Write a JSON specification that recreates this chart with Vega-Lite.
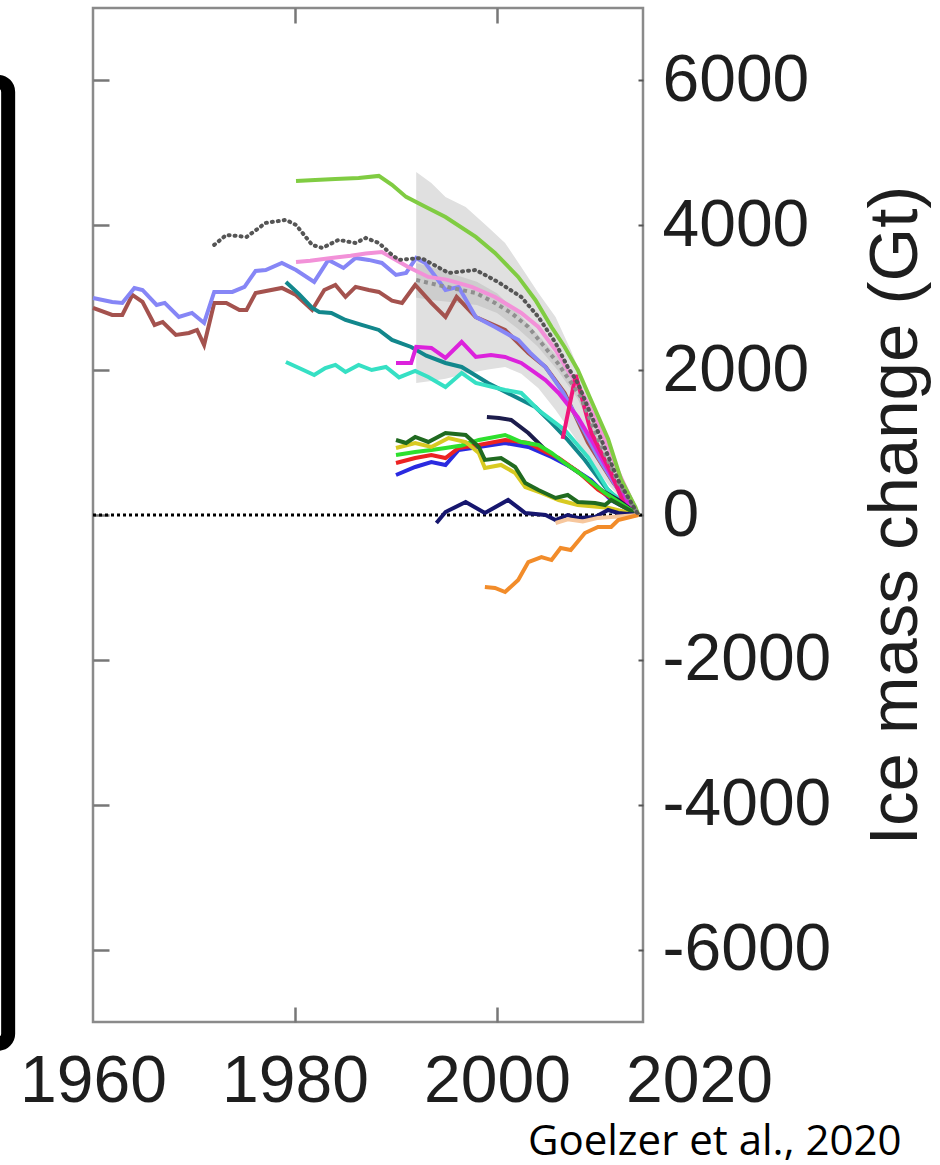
{
  "$schema": "https://vega.github.io/schema/vega-lite/v6.json",
  "width": 550,
  "height": 1014,
  "autosize": {"type": "none"},
  "padding": {"left": 93, "top": 8, "right": 297, "bottom": 143},
  "background": "white",
  "config": {
    "view": {"stroke": "#8a8a8a", "strokeWidth": 2.5},
    "axis": {"grid": false, "domain": false, "labelFont": "Liberation Sans", "titleFont": "Liberation Sans"}
  },
  "datasets": {
    "band": [
      {"t": 1992, "v": 4737, "v2": 1823}, {"t": 1993.5, "v": 4585, "v2": 1850}, {"t": 1994.9, "v": 4392, "v2": 1880},
      {"t": 1996.9, "v": 4253, "v2": 1950}, {"t": 1999.1, "v": 3977, "v2": 2010}, {"t": 2000.8, "v": 3756, "v2": 2044},
      {"t": 2002.4, "v": 3425, "v2": 1950}, {"t": 2004.1, "v": 3066, "v2": 1750}, {"t": 2005.8, "v": 2734, "v2": 1450},
      {"t": 2007.3, "v": 2279, "v2": 1150}, {"t": 2009, "v": 1700, "v2": 800}, {"t": 2011, "v": 950, "v2": 420},
      {"t": 2013, "v": 300, "v2": 120}, {"t": 2014, "v": 0, "v2": 0}
    ],
    "imbieband": [
      {"t": 1992, "v": 3480, "v2": 3000}, {"t": 1994, "v": 3400, "v2": 2960}, {"t": 1996, "v": 3310, "v2": 2930},
      {"t": 1998, "v": 3220, "v2": 2900}, {"t": 2000, "v": 3060, "v2": 2790}, {"t": 2002, "v": 2800, "v2": 2580},
      {"t": 2004, "v": 2500, "v2": 2330}, {"t": 2006, "v": 2180, "v2": 2000}, {"t": 2008, "v": 1760, "v2": 1600},
      {"t": 2010, "v": 1120, "v2": 1000}, {"t": 2012, "v": 490, "v2": 420}, {"t": 2014, "v": 0, "v2": 0}
    ],
    "zero": [{"t": 1960, "v": 0}, {"t": 2014.45, "v": 0}],
    "box": [{"t": 1930, "t2": 1951.6, "v": 5980, "v2": -7300}],
    "dotted": [
      {"t": 1972, "v": 3729}, {"t": 1973.2, "v": 3867}, {"t": 1975.2, "v": 3839}, {"t": 1977.1, "v": 4033},
      {"t": 1979.1, "v": 4074}, {"t": 1980.1, "v": 4005}, {"t": 1981.7, "v": 3729}, {"t": 1982.7, "v": 3687},
      {"t": 1984.3, "v": 3798}, {"t": 1986, "v": 3756}, {"t": 1987, "v": 3825}, {"t": 1988.3, "v": 3756},
      {"t": 1989.6, "v": 3591}, {"t": 1990.3, "v": 3522}, {"t": 1992.5, "v": 3549}, {"t": 1995.2, "v": 3342},
      {"t": 1997.9, "v": 3383}, {"t": 2000.1, "v": 3218}, {"t": 2002.4, "v": 3011}, {"t": 2004.1, "v": 2734},
      {"t": 2005.8, "v": 2375}, {"t": 2007, "v": 2044}, {"t": 2008, "v": 1823}, {"t": 2010, "v": 1150},
      {"t": 2012, "v": 480}, {"t": 2014, "v": 0}
    ],
    "imbiemean": [
      {"t": 1992, "v": 3245}, {"t": 1994, "v": 3180}, {"t": 1996, "v": 3120}, {"t": 1997.9, "v": 3066},
      {"t": 1999.8, "v": 2928}, {"t": 2001.5, "v": 2780}, {"t": 2003.1, "v": 2596}, {"t": 2004.4, "v": 2375},
      {"t": 2006, "v": 2100}, {"t": 2008.3, "v": 1630}, {"t": 2010, "v": 1050}, {"t": 2012, "v": 450}, {"t": 2014, "v": 0}
    ],
    "models": [
      {"m": "brown", "t": 1960, "v": 2859}, {"m": "brown", "t": 1961.9, "v": 2762}, {"m": "brown", "t": 1962.9, "v": 2762},
      {"m": "brown", "t": 1963.9, "v": 3038}, {"m": "brown", "t": 1964.9, "v": 2942}, {"m": "brown", "t": 1966.1, "v": 2624},
      {"m": "brown", "t": 1966.9, "v": 2665}, {"m": "brown", "t": 1968.2, "v": 2486}, {"m": "brown", "t": 1969.5, "v": 2513},
      {"m": "brown", "t": 1970.3, "v": 2555}, {"m": "brown", "t": 1971, "v": 2348}, {"m": "brown", "t": 1972, "v": 2928},
      {"m": "brown", "t": 1973.2, "v": 2928}, {"m": "brown", "t": 1974.5, "v": 2831}, {"m": "brown", "t": 1975.2, "v": 2831},
      {"m": "brown", "t": 1976.1, "v": 3066}, {"m": "brown", "t": 1978.7, "v": 3135}, {"m": "brown", "t": 1980.1, "v": 3038},
      {"m": "brown", "t": 1981.7, "v": 2831}, {"m": "brown", "t": 1982.9, "v": 3107}, {"m": "brown", "t": 1984, "v": 3176},
      {"m": "brown", "t": 1985, "v": 3011}, {"m": "brown", "t": 1986, "v": 3149}, {"m": "brown", "t": 1987.3, "v": 3107},
      {"m": "brown", "t": 1988.3, "v": 3080}, {"m": "brown", "t": 1989.6, "v": 2960}, {"m": "brown", "t": 1990.6, "v": 2928},
      {"m": "brown", "t": 1991.9, "v": 3176}, {"m": "brown", "t": 1993.5, "v": 2928}, {"m": "brown", "t": 1994.9, "v": 2734},
      {"m": "brown", "t": 1996, "v": 3011}, {"m": "brown", "t": 1997.9, "v": 2734}, {"m": "brown", "t": 2000.8, "v": 2555},
      {"m": "brown", "t": 2003.1, "v": 2237}, {"m": "brown", "t": 2004.8, "v": 2044}, {"m": "brown", "t": 2006.7, "v": 1685},
      {"m": "brown", "t": 2009, "v": 1000}, {"m": "brown", "t": 2011.5, "v": 450}, {"m": "brown", "t": 2014, "v": 0},

      {"m": "violet", "t": 1960, "v": 2997}, {"m": "violet", "t": 1961.9, "v": 2942}, {"m": "violet", "t": 1962.9, "v": 2928},
      {"m": "violet", "t": 1964.1, "v": 3135}, {"m": "violet", "t": 1964.9, "v": 3107}, {"m": "violet", "t": 1966.3, "v": 2900},
      {"m": "violet", "t": 1967.1, "v": 2928}, {"m": "violet", "t": 1968.5, "v": 2734}, {"m": "violet", "t": 1969.8, "v": 2790},
      {"m": "violet", "t": 1971, "v": 2652}, {"m": "violet", "t": 1972, "v": 3080}, {"m": "violet", "t": 1973.8, "v": 3080},
      {"m": "violet", "t": 1975, "v": 3149}, {"m": "violet", "t": 1976.1, "v": 3370}, {"m": "violet", "t": 1977.1, "v": 3383},
      {"m": "violet", "t": 1978.7, "v": 3480}, {"m": "violet", "t": 1980.1, "v": 3383}, {"m": "violet", "t": 1981.9, "v": 3218},
      {"m": "violet", "t": 1983.3, "v": 3522}, {"m": "violet", "t": 1984.8, "v": 3411}, {"m": "violet", "t": 1986, "v": 3549},
      {"m": "violet", "t": 1987.3, "v": 3522}, {"m": "violet", "t": 1988.6, "v": 3480}, {"m": "violet", "t": 1990, "v": 3314},
      {"m": "violet", "t": 1991, "v": 3342}, {"m": "violet", "t": 1992, "v": 3549}, {"m": "violet", "t": 1992.9, "v": 3480},
      {"m": "violet", "t": 1994.9, "v": 3107}, {"m": "violet", "t": 1996.2, "v": 3149}, {"m": "violet", "t": 1997.9, "v": 2734},
      {"m": "violet", "t": 1999.8, "v": 2596}, {"m": "violet", "t": 2002.1, "v": 2417}, {"m": "violet", "t": 2003.3, "v": 2237},
      {"m": "violet", "t": 2004.8, "v": 2044}, {"m": "violet", "t": 2006.5, "v": 1700}, {"m": "violet", "t": 2008.3, "v": 1250},
      {"m": "violet", "t": 2010, "v": 800}, {"m": "violet", "t": 2012, "v": 350}, {"m": "violet", "t": 2014, "v": 0},

      {"m": "pink", "t": 1980.1, "v": 3494}, {"m": "pink", "t": 1981.5, "v": 3510}, {"m": "pink", "t": 1983.6, "v": 3549},
      {"m": "pink", "t": 1985.5, "v": 3580}, {"m": "pink", "t": 1987, "v": 3610}, {"m": "pink", "t": 1988.6, "v": 3632},
      {"m": "pink", "t": 1990, "v": 3520}, {"m": "pink", "t": 1991.2, "v": 3425}, {"m": "pink", "t": 1993.2, "v": 3287},
      {"m": "pink", "t": 1995, "v": 3250}, {"m": "pink", "t": 1997.5, "v": 3149}, {"m": "pink", "t": 1999.8, "v": 3011},
      {"m": "pink", "t": 2002.4, "v": 2790}, {"m": "pink", "t": 2004.1, "v": 2596}, {"m": "pink", "t": 2005.8, "v": 2279},
      {"m": "pink", "t": 2007, "v": 2002}, {"m": "pink", "t": 2008.3, "v": 1726}, {"m": "pink", "t": 2010, "v": 1250},
      {"m": "pink", "t": 2012, "v": 600}, {"m": "pink", "t": 2014, "v": 0},

      {"m": "green", "t": 1980.1, "v": 4612}, {"m": "green", "t": 1982, "v": 4625}, {"m": "green", "t": 1984, "v": 4640},
      {"m": "green", "t": 1986.3, "v": 4654}, {"m": "green", "t": 1988.3, "v": 4682}, {"m": "green", "t": 1989.6, "v": 4560},
      {"m": "green", "t": 1991, "v": 4392}, {"m": "green", "t": 1993, "v": 4250}, {"m": "green", "t": 1994.9, "v": 4115},
      {"m": "green", "t": 1997.9, "v": 3839}, {"m": "green", "t": 1999.8, "v": 3618}, {"m": "green", "t": 2002.1, "v": 3287},
      {"m": "green", "t": 2003.8, "v": 2969}, {"m": "green", "t": 2005.4, "v": 2596}, {"m": "green", "t": 2006.7, "v": 2320},
      {"m": "green", "t": 2008, "v": 2002}, {"m": "green", "t": 2009.3, "v": 1588}, {"m": "green", "t": 2011, "v": 1050},
      {"m": "green", "t": 2012.3, "v": 483}, {"m": "green", "t": 2013.7, "v": 110}, {"m": "green", "t": 2014, "v": 0},

      {"m": "teal", "t": 1979.1, "v": 3218}, {"m": "teal", "t": 1980.4, "v": 3050}, {"m": "teal", "t": 1981.7, "v": 2859},
      {"m": "teal", "t": 1982.4, "v": 2803}, {"m": "teal", "t": 1983.6, "v": 2790}, {"m": "teal", "t": 1985, "v": 2693},
      {"m": "teal", "t": 1986.6, "v": 2624}, {"m": "teal", "t": 1988.3, "v": 2555}, {"m": "teal", "t": 1989.6, "v": 2417},
      {"m": "teal", "t": 1991.5, "v": 2320}, {"m": "teal", "t": 1993, "v": 2200}, {"m": "teal", "t": 1994.9, "v": 2099},
      {"m": "teal", "t": 1996.5, "v": 2044}, {"m": "teal", "t": 1999.1, "v": 1823}, {"m": "teal", "t": 2001.4, "v": 1660},
      {"m": "teal", "t": 2003.8, "v": 1491}, {"m": "teal", "t": 2005.4, "v": 1271}, {"m": "teal", "t": 2007, "v": 1036},
      {"m": "teal", "t": 2008.7, "v": 760}, {"m": "teal", "t": 2010.7, "v": 387}, {"m": "teal", "t": 2012.3, "v": 166},
      {"m": "teal", "t": 2014, "v": 0},

      {"m": "cyan", "t": 1979.1, "v": 2113}, {"m": "cyan", "t": 1980.4, "v": 2030}, {"m": "cyan", "t": 1981.9, "v": 1933},
      {"m": "cyan", "t": 1983, "v": 2030}, {"m": "cyan", "t": 1984, "v": 2072}, {"m": "cyan", "t": 1985, "v": 1975},
      {"m": "cyan", "t": 1986.3, "v": 2072}, {"m": "cyan", "t": 1987.6, "v": 2002}, {"m": "cyan", "t": 1989, "v": 2044},
      {"m": "cyan", "t": 1990.3, "v": 1900}, {"m": "cyan", "t": 1991.9, "v": 1990}, {"m": "cyan", "t": 1993.2, "v": 1906},
      {"m": "cyan", "t": 1994.9, "v": 1768}, {"m": "cyan", "t": 1996.5, "v": 1961}, {"m": "cyan", "t": 1997.9, "v": 1823},
      {"m": "cyan", "t": 2000.8, "v": 1726}, {"m": "cyan", "t": 2002.4, "v": 1685}, {"m": "cyan", "t": 2004.1, "v": 1450},
      {"m": "cyan", "t": 2006.7, "v": 1174}, {"m": "cyan", "t": 2009, "v": 800}, {"m": "cyan", "t": 2011, "v": 345},
      {"m": "cyan", "t": 2014, "v": 0},

      {"m": "magenta", "t": 1990, "v": 2099}, {"m": "magenta", "t": 1991.5, "v": 2099}, {"m": "magenta", "t": 1992, "v": 2320},
      {"m": "magenta", "t": 1993.5, "v": 2306}, {"m": "magenta", "t": 1994.9, "v": 2168}, {"m": "magenta", "t": 1996.5, "v": 2389},
      {"m": "magenta", "t": 1997.9, "v": 2182}, {"m": "magenta", "t": 1999.4, "v": 2210}, {"m": "magenta", "t": 2000.8, "v": 2182},
      {"m": "magenta", "t": 2002.4, "v": 2099}, {"m": "magenta", "t": 2003.8, "v": 1961}, {"m": "magenta", "t": 2004.8, "v": 1864},
      {"m": "magenta", "t": 2006.1, "v": 1685}, {"m": "magenta", "t": 2008, "v": 1350}, {"m": "magenta", "t": 2009.5, "v": 1000},
      {"m": "magenta", "t": 2011, "v": 620}, {"m": "magenta", "t": 2012.5, "v": 250}, {"m": "magenta", "t": 2014, "v": 0},

      {"m": "hotpink", "t": 2006.5, "v": 1050}, {"m": "hotpink", "t": 2007.8, "v": 1933}, {"m": "hotpink", "t": 2009.3, "v": 1150},
      {"m": "hotpink", "t": 2011.3, "v": 580}, {"m": "hotpink", "t": 2012.7, "v": 110}, {"m": "hotpink", "t": 2014, "v": 0},

      {"m": "navy1", "t": 1999, "v": 1353}, {"m": "navy1", "t": 2000.2, "v": 1340}, {"m": "navy1", "t": 2001.4, "v": 1312},
      {"m": "navy1", "t": 2003.1, "v": 1132}, {"m": "navy1", "t": 2004.8, "v": 898}, {"m": "navy1", "t": 2006.7, "v": 718},
      {"m": "navy1", "t": 2008.7, "v": 525}, {"m": "navy1", "t": 2010.3, "v": 345}, {"m": "navy1", "t": 2012, "v": 207},
      {"m": "navy1", "t": 2014, "v": 0},

      {"m": "blue", "t": 1990, "v": 552}, {"m": "blue", "t": 1991.9, "v": 663}, {"m": "blue", "t": 1993.5, "v": 732},
      {"m": "blue", "t": 1994.9, "v": 691}, {"m": "blue", "t": 1996.2, "v": 898}, {"m": "blue", "t": 1998.2, "v": 939},
      {"m": "blue", "t": 2000.8, "v": 994}, {"m": "blue", "t": 2003.1, "v": 939}, {"m": "blue", "t": 2005.4, "v": 801},
      {"m": "blue", "t": 2007.3, "v": 663}, {"m": "blue", "t": 2009.3, "v": 483}, {"m": "blue", "t": 2011.3, "v": 207},
      {"m": "blue", "t": 2014, "v": 0},

      {"m": "red", "t": 1990, "v": 718}, {"m": "red", "t": 1991.9, "v": 787}, {"m": "red", "t": 1993.5, "v": 829},
      {"m": "red", "t": 1994.9, "v": 787}, {"m": "red", "t": 1996.2, "v": 925}, {"m": "red", "t": 1998.2, "v": 967},
      {"m": "red", "t": 2000.8, "v": 1036}, {"m": "red", "t": 2003.1, "v": 994}, {"m": "red", "t": 2004.8, "v": 870},
      {"m": "red", "t": 2006.1, "v": 787}, {"m": "red", "t": 2008, "v": 600}, {"m": "red", "t": 2010, "v": 350},
      {"m": "red", "t": 2014, "v": 0},

      {"m": "green2", "t": 1990, "v": 829}, {"m": "green2", "t": 1991.9, "v": 870}, {"m": "green2", "t": 1993.5, "v": 898},
      {"m": "green2", "t": 1994.9, "v": 925}, {"m": "green2", "t": 1996.5, "v": 960}, {"m": "green2", "t": 1998.2, "v": 1036},
      {"m": "green2", "t": 2000.8, "v": 1105}, {"m": "green2", "t": 2002.4, "v": 1008}, {"m": "green2", "t": 2004.1, "v": 967},
      {"m": "green2", "t": 2005.4, "v": 856}, {"m": "green2", "t": 2006.7, "v": 718}, {"m": "green2", "t": 2008.7, "v": 525},
      {"m": "green2", "t": 2010.7, "v": 304}, {"m": "green2", "t": 2014, "v": 0},

      {"m": "yellow", "t": 1990, "v": 925}, {"m": "yellow", "t": 1991.9, "v": 994}, {"m": "yellow", "t": 1993.5, "v": 939},
      {"m": "yellow", "t": 1995.2, "v": 1063}, {"m": "yellow", "t": 1996.9, "v": 1008}, {"m": "yellow", "t": 1998.2, "v": 856},
      {"m": "yellow", "t": 1998.8, "v": 649}, {"m": "yellow", "t": 2000.4, "v": 691}, {"m": "yellow", "t": 2001.8, "v": 580},
      {"m": "yellow", "t": 2002.8, "v": 387}, {"m": "yellow", "t": 2004.4, "v": 304}, {"m": "yellow", "t": 2006.1, "v": 207},
      {"m": "yellow", "t": 2008, "v": 138}, {"m": "yellow", "t": 2011, "v": 100}, {"m": "yellow", "t": 2014, "v": 0},

      {"m": "dkgreen", "t": 1990, "v": 1036}, {"m": "dkgreen", "t": 1991, "v": 994}, {"m": "dkgreen", "t": 1991.9, "v": 1077},
      {"m": "dkgreen", "t": 1993.2, "v": 1008}, {"m": "dkgreen", "t": 1994.9, "v": 1132}, {"m": "dkgreen", "t": 1996.9, "v": 1105},
      {"m": "dkgreen", "t": 1998.2, "v": 939}, {"m": "dkgreen", "t": 1998.8, "v": 760}, {"m": "dkgreen", "t": 2000.4, "v": 787},
      {"m": "dkgreen", "t": 2001.8, "v": 663}, {"m": "dkgreen", "t": 2002.8, "v": 442}, {"m": "dkgreen", "t": 2004.1, "v": 345},
      {"m": "dkgreen", "t": 2005.8, "v": 235}, {"m": "dkgreen", "t": 2007, "v": 276}, {"m": "dkgreen", "t": 2008, "v": 180},
      {"m": "dkgreen", "t": 2009.7, "v": 166}, {"m": "dkgreen", "t": 2010.7, "v": 138}, {"m": "dkgreen", "t": 2011.3, "v": 207},
      {"m": "dkgreen", "t": 2014, "v": 0},

      {"m": "navy2", "t": 1994, "v": -110}, {"m": "navy2", "t": 1994.9, "v": 41}, {"m": "navy2", "t": 1996.9, "v": 180},
      {"m": "navy2", "t": 1998.8, "v": 28}, {"m": "navy2", "t": 2001.1, "v": 207}, {"m": "navy2", "t": 2002.8, "v": 28},
      {"m": "navy2", "t": 2004.8, "v": 0}, {"m": "navy2", "t": 2005.8, "v": -69}, {"m": "navy2", "t": 2007, "v": 0},
      {"m": "navy2", "t": 2008, "v": -41}, {"m": "navy2", "t": 2009.7, "v": -28}, {"m": "navy2", "t": 2011, "v": 69},
      {"m": "navy2", "t": 2012, "v": 28}, {"m": "navy2", "t": 2014, "v": 0},

      {"m": "ltorange", "t": 2005.8, "v": -110}, {"m": "ltorange", "t": 2007, "v": -60}, {"m": "ltorange", "t": 2008.5, "v": -90},
      {"m": "ltorange", "t": 2010, "v": -40}, {"m": "ltorange", "t": 2012, "v": -20}, {"m": "ltorange", "t": 2014, "v": 0},

      {"m": "orange", "t": 1998.8, "v": -994}, {"m": "orange", "t": 1999.8, "v": -1008}, {"m": "orange", "t": 2000.8, "v": -1063},
      {"m": "orange", "t": 2002.1, "v": -898}, {"m": "orange", "t": 2003.1, "v": -649}, {"m": "orange", "t": 2004.4, "v": -580},
      {"m": "orange", "t": 2005.4, "v": -622}, {"m": "orange", "t": 2006.3, "v": -456}, {"m": "orange", "t": 2007.3, "v": -483},
      {"m": "orange", "t": 2008.7, "v": -249}, {"m": "orange", "t": 2010, "v": -166}, {"m": "orange", "t": 2011.3, "v": -166},
      {"m": "orange", "t": 2012, "v": -69}, {"m": "orange", "t": 2014, "v": 0}
    ]
  },
  "layer": [
    {
      "data": {"name": "band"},
      "mark": {"type": "area", "color": "#e0e0e0"},
      "encoding": {
        "x": {
          "field": "t", "type": "quantitative",
          "scale": {"domain": [1960, 2020], "range": [0, 606], "nice": false, "zero": false},
          "axis": {"orient": "top", "values": [1980, 2000], "labels": false, "tickSize": -15, "tickColor": "#777777", "tickWidth": 2.5, "title": null}
        },
        "y": {
          "field": "v", "type": "quantitative",
          "scale": {"domain": [-7000, 7000], "nice": false, "zero": false},
          "axis": {"orient": "left", "values": [-6000, -4000, -2000, 0, 2000, 4000, 6000], "labels": false, "tickSize": -16, "tickColor": "#777777", "tickWidth": 2.5, "title": null}
        },
        "y2": {"field": "v2"}
      }
    },
    {
      "encoding": {
        "x": {
          "field": "t", "type": "quantitative",
          "scale": {"domain": [1960, 2020], "range": [0, 606], "nice": false, "zero": false},
          "axis": {
            "orient": "bottom", "values": [1960, 1980, 2000, 2020],
            "labelExpr": "'' + datum.value",
            "labelFontSize": 66, "labelColor": "#1e1e1e", "labelPadding": 42,
            "labelOverlap": false, "labelFlush": false, "labelBound": false,
            "tickSize": -15, "tickColor": "#777777", "tickWidth": 2.5,
            "tickOpacity": {"condition": {"test": "datum.value < 1970 || datum.value > 2010", "value": 0}, "value": 1},
            "title": "Goelzer et al., 2020",
            "titleFont": "Open Sans", "titleFontSize": 42, "titleFontWeight": "normal", "titleColor": "#000000",
            "titleAlign": "right", "titleBaseline": "alphabetic", "titleX": 808, "titleY": 132
          }
        },
        "y": {
          "field": "v", "type": "quantitative",
          "scale": {"domain": [-7000, 7000], "nice": false, "zero": false},
          "axis": {
            "orient": "right", "values": [-6000, -4000, -2000, 0, 2000, 4000, 6000],
            "labelExpr": "'' + datum.value",
            "labelFontSize": 66, "labelColor": "#1e1e1e", "labelPadding": 24, "labelOverlap": false, "labelFlush": false,
            "tickSize": -5, "tickColor": "#555555", "tickWidth": 2,
            "title": "Ice mass change (Gt)",
            "titleFontSize": 69, "titleFontWeight": "normal", "titleColor": "#1e1e1e",
            "titleAngle": 270, "titleAlign": "center", "titleBaseline": "alphabetic", "titleX": 273, "titleY": 507
          }
        }
      },
      "layer": [
        {
          "data": {"name": "imbieband"},
          "mark": {"type": "area", "color": "#cdcdcd"},
          "encoding": {"y2": {"field": "v2"}}
        },
        {
          "data": {"name": "zero"},
          "mark": {"type": "line", "color": "#000000", "strokeWidth": 3, "strokeDash": [3, 3]},
          "encoding": {}
        },
        {
          "data": {"name": "models"},
          "mark": {"type": "line", "strokeWidth": 4},
          "encoding": {
            "color": {
              "field": "m", "type": "nominal", "legend": null,
              "scale": {
                "domain": ["brown", "violet", "pink", "green", "teal", "cyan", "magenta", "hotpink", "navy1", "blue", "red", "green2", "yellow", "dkgreen", "navy2", "ltorange", "orange"],
                "range": ["#a4524e", "#8686f6", "#f291d8", "#80cc42", "#12878c", "#36e0c4", "#dc22dc", "#f0167a", "#1c1c4c", "#2a2ae0", "#ec2222", "#2ee02e", "#d8ca22", "#206a20", "#16166e", "#f7c79d", "#f28c2a"]
              }
            }
          }
        },
        {
          "data": {"name": "imbiemean"},
          "mark": {"type": "line", "color": "#8f8f8f", "strokeWidth": 4, "strokeDash": [4, 4]},
          "encoding": {}
        },
        {
          "data": {"name": "dotted"},
          "mark": {"type": "line", "color": "#555555", "strokeWidth": 4, "strokeDash": [1, 5], "strokeCap": "round"},
          "encoding": {}
        },
        {
          "data": {"name": "box"},
          "mark": {"type": "rect", "fill": null, "fillOpacity": 0, "stroke": "#000000", "strokeWidth": 14, "cornerRadius": 10},
          "encoding": {"x2": {"field": "t2"}, "y2": {"field": "v2"}}
        }
      ]
    }
  ],
  "resolve": {"axis": {"x": "independent", "y": "independent"}}
}
